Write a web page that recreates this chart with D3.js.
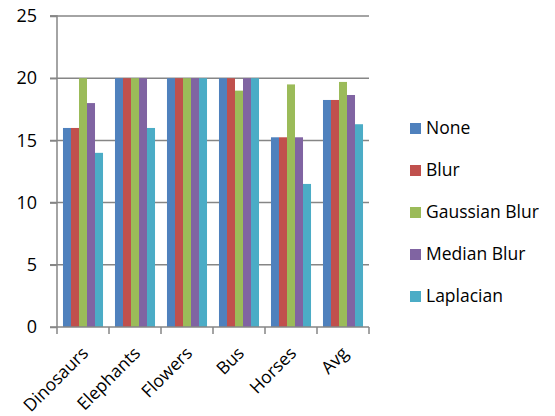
<!DOCTYPE html>
<html><head><meta charset="utf-8">
<script src="https://cdn.jsdelivr.net/npm/d3@7/dist/d3.min.js"></script>
<style>body{margin:0;background:#fff}svg text{font-family:"Open Sans",Lato,sans-serif;fill:#000}</style>
</head><body><svg id="c" width="555" height="416"></svg>
<script>
const categories = ["Dinosaurs","Elephants","Flowers","Bus","Horses","Avg"];
const seriesNames = ["None","Blur","Gaussian Blur","Median Blur","Laplacian"];
const colors = ["#4F81BD","#C0504D","#9BBB59","#8064A2","#4BACC6"];
const noneVals = [16,20,20,20,15.25,18.25];
const blurVals = [16,20,20,20,15.25,18.25];
const gaussVals = [20,20,20,19,19.5,19.7];
const medianVals = [18,20,20,20,15.25,18.65];
const laplacianVals = [14,16,20,20,11.5,16.3];
const yTicks = [0,5,10,15,20,25];
const series = [noneVals,blurVals,gaussVals,medianVals,laplacianVals];

const svg = d3.select("#c");
const mL = 57, mR = 369, mT = 16, mB = 327;
const fs = "17.5px";
const x = d3.scaleBand().domain(categories).range([mL,mR]).paddingInner(0.23).paddingOuter(0.115);
const xs = d3.scaleBand().domain(seriesNames).range([0,x.bandwidth()]);
const y = d3.scaleLinear().domain([0,25]).range([mB,mT]);
const grid = "#868686";

// gridlines
svg.append("g").selectAll("line").data(yTicks.filter(d=>d>0)).join("line")
  .attr("x1",mL-7).attr("x2",mR).attr("y1",d=>y(d)).attr("y2",d=>y(d))
  .attr("stroke",grid).attr("stroke-width",1.5);

// bars
series.forEach((vals,i)=>{
  svg.append("g").selectAll("rect").data(vals).join("rect")
    .attr("x",(d,j)=>x(categories[j])+xs(seriesNames[i]))
    .attr("width",xs.bandwidth())
    .attr("y",d=>y(d)).attr("height",d=>y(0)-y(d))
    .attr("fill",colors[i]);
});

// y axis
const ya = svg.append("g").attr("transform",`translate(${mL},0)`)
  .call(d3.axisLeft(y).tickValues(yTicks).tickSize(7).tickPadding(13));
ya.select(".domain").attr("stroke",grid).attr("stroke-width",1.5).attr("d",`M-7,${y(25)}H0V${y(0)}`);
ya.selectAll(".tick line").attr("stroke",grid).attr("stroke-width",1.5);
ya.selectAll("text").style("font-size","18px").style("font-family","'Open Sans',sans-serif");

// x axis
const step = x.step();
const xg = svg.append("g");
xg.append("line").attr("x1",mL-7).attr("x2",mR).attr("y1",mB).attr("y2",mB).attr("stroke",grid).attr("stroke-width",1.5);
const edges = d3.range(categories.length+1).map(i=>mL+i*step);
xg.selectAll(".tk").data(edges).join("line").attr("class","tk")
  .attr("x1",d=>d).attr("x2",d=>d).attr("y1",mB).attr("y2",mB+7)
  .attr("stroke",grid).attr("stroke-width",1.5);
xg.selectAll("text").data(categories).join("text")
  .attr("transform",d=>`translate(${x(d)+x.bandwidth()/2-3},${mB+18}) rotate(-45)`)
  .attr("text-anchor","end").attr("dy","0.75em")
  .style("font-size",fs).text(d=>d);

// legend
const lg = svg.append("g");
seriesNames.forEach((n,i)=>{
  const cy = 128 + i*42;
  lg.append("rect").attr("x",410).attr("y",cy-5).attr("width",11).attr("height",11).attr("fill",colors[i]);
  lg.append("text").attr("x",426).attr("y",cy).attr("dy","0.35em").style("font-size",fs).text(n);
});
</script></body></html>
